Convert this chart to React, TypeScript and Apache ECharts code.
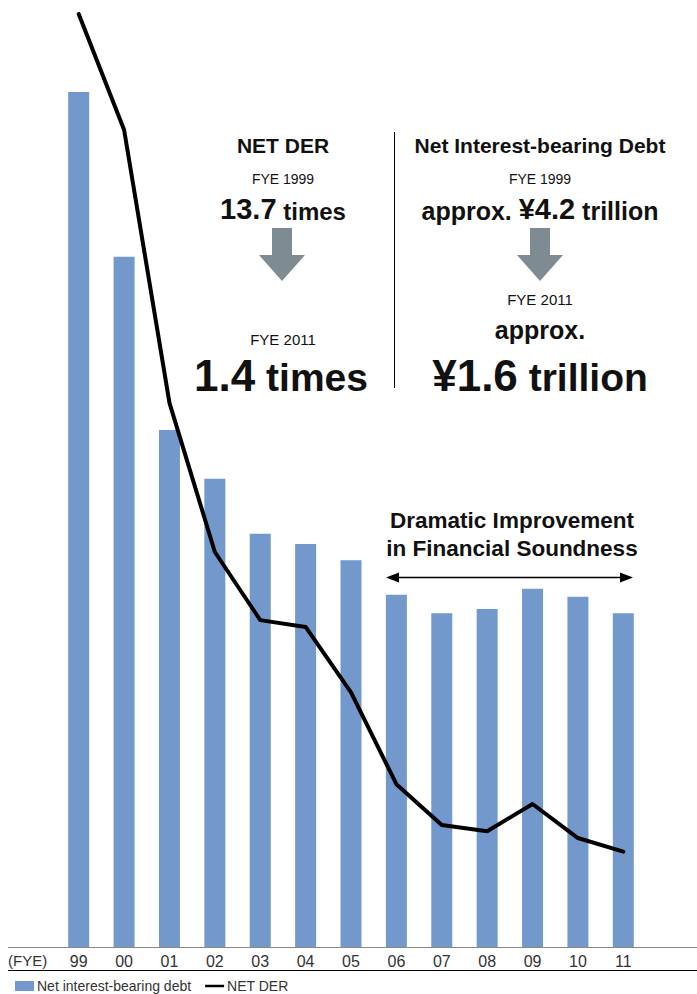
import React, { useEffect, useRef } from "react";
import * as echarts from "echarts";

const categories = ["99", "00", "01", "02", "03", "04", "05", "06", "07", "08", "09", "10", "11"];
const debtValues = [4.2, 3.39, 2.54, 2.3, 2.03, 1.98, 1.9, 1.73, 1.64, 1.66, 1.76, 1.72, 1.64];
const derValues = [13.7, 12.0, 7.99, 5.8, 4.8, 4.7, 3.74, 2.39, 1.79, 1.7, 2.1, 1.6, 1.4];

const FONT = "'Liberation Sans', Arial, sans-serif";
const BAR_COLOR = "#7399cc";
const ARROW_GRAY = "#7f8b93";

function downArrow(cx: number, top: number) {
  return {
    type: "polygon",
    shape: {
      points: [
        [cx - 10, top],
        [cx + 10, top],
        [cx + 10, top + 27],
        [cx + 23, top + 27],
        [cx, top + 53],
        [cx - 23, top + 27],
        [cx - 10, top + 27],
      ],
    },
    style: { fill: ARROW_GRAY },
    silent: true,
  };
}

function txt(x: number, y: number, text: string, size: number, bold = true, rich?: any) {
  return {
    type: "text",
    x,
    y,
    style: {
      text,
      fontFamily: FONT,
      fontSize: size,
      fontWeight: bold ? "bold" : "normal",
      fill: "#111",
      align: "center",
      verticalAlign: "middle",
      rich,
    },
    silent: true,
  };
}

export default function App() {
  const ref = useRef<HTMLDivElement>(null);
  useEffect(() => {
    document.body.style.margin = "0";
    const chart = echarts.init(ref.current!, null, { renderer: "svg" });
    const rs = (size: number) => ({ fontFamily: FONT, fontSize: size, fontWeight: "bold", fill: "#111", verticalAlign: "bottom", color: "#111" });
    chart.setOption({
      animation: false,
      grid: { left: 56, right: 51, top: 14, bottom: 47 },
      xAxis: {
        type: "category",
        data: categories,
        axisLine: { show: false },
        axisTick: { show: false },
        axisLabel: { margin: 6, fontFamily: FONT, fontSize: 16, color: "#333" },
      },
      yAxis: [
        { type: "value", min: 0, max: 4.583, show: false },
        { type: "value", min: 0, max: 13.7, show: false },
      ],
      legend: {
        left: 10,
        top: 974,
        itemWidth: 19,
        itemHeight: 10,
        itemGap: 14,
        textStyle: { fontFamily: FONT, fontSize: 14, lineHeight: 14, color: "#333", padding: [0, 0, 0, -2] },
        data: [
          { name: "Net interest-bearing debt", icon: "rect" },
          { name: "NET DER", icon: "path://M0,0h0.1v0.1H0zM0,3.8h20v2.6H0zM19.9,9.9h0.1v0.1h-0.1z" },
        ],
      },
      series: [
        {
          name: "Net interest-bearing debt",
          type: "bar",
          data: debtValues,
          barWidth: 21,
          itemStyle: { color: BAR_COLOR },
          yAxisIndex: 0,
        },
        {
          name: "NET DER",
          type: "line",
          data: derValues,
          yAxisIndex: 1,
          symbol: "none",
          lineStyle: { color: "#000", width: 4, cap: "round", join: "round" },
          itemStyle: { color: "#000" },
        },
      ],
      graphic: [
        { type: "line", shape: { x1: 8, y1: 947.5, x2: 697, y2: 947.5 }, style: { stroke: "#888", lineWidth: 1 }, silent: true },
        { type: "line", shape: { x1: 8, y1: 970.5, x2: 697, y2: 970.5 }, style: { stroke: "#000", lineWidth: 1 }, silent: true },
        { type: "text", x: 8, y: 960, style: { text: "(FYE)", fontFamily: FONT, fontSize: 15, fill: "#333", verticalAlign: "middle" }, silent: true },
        { type: "line", shape: { x1: 394.5, y1: 132, x2: 394.5, y2: 388 }, style: { stroke: "#000", lineWidth: 1 }, silent: true },
        txt(283, 145, "NET DER", 21),
        txt(283, 179, "FYE 1999", 14, false),
        txt(283, 209, "{a|13.7}{b| times}", 28, true, { a: rs(29), b: rs(24) }),
        downArrow(282, 228),
        txt(283, 339, "FYE 2011", 15, false),
        txt(281, 375, "{a|1.4}{b| times}", 44, true, { a: rs(44), b: rs(39) }),
        txt(540, 145, "Net Interest-bearing Debt", 21),
        txt(540, 179, "FYE 1999", 14, false),
        txt(540, 209, "{b|approx. }{a|¥4.2}{b| trillion}", 25, true, { a: rs(29), b: rs(25) }),
        downArrow(540, 228),
        txt(540, 299, "FYE 2011", 15, false),
        txt(540, 330, "approx.", 25),
        txt(540, 375, "{a|¥1.6}{b| trillion}", 44, true, { a: rs(44), b: rs(39) }),
        txt(512, 520, "Dramatic Improvement", 22.5),
        txt(512, 548, "in Financial Soundness", 22.5),
        { type: "line", shape: { x1: 392, y1: 577.5, x2: 627, y2: 577.5 }, style: { stroke: "#000", lineWidth: 1.5 }, silent: true },
        { type: "polygon", shape: { points: [[386, 577.5], [399, 572.5], [399, 582.5]] }, style: { fill: "#000" }, silent: true },
        { type: "polygon", shape: { points: [[633, 577.5], [620, 572.5], [620, 582.5]] }, style: { fill: "#000" }, silent: true },
      ],
    });
    return () => chart.dispose();
  }, []);
  return <div ref={ref} style={{ position: "absolute", left: 0, top: 0, width: 697, height: 994 }} />;
}
